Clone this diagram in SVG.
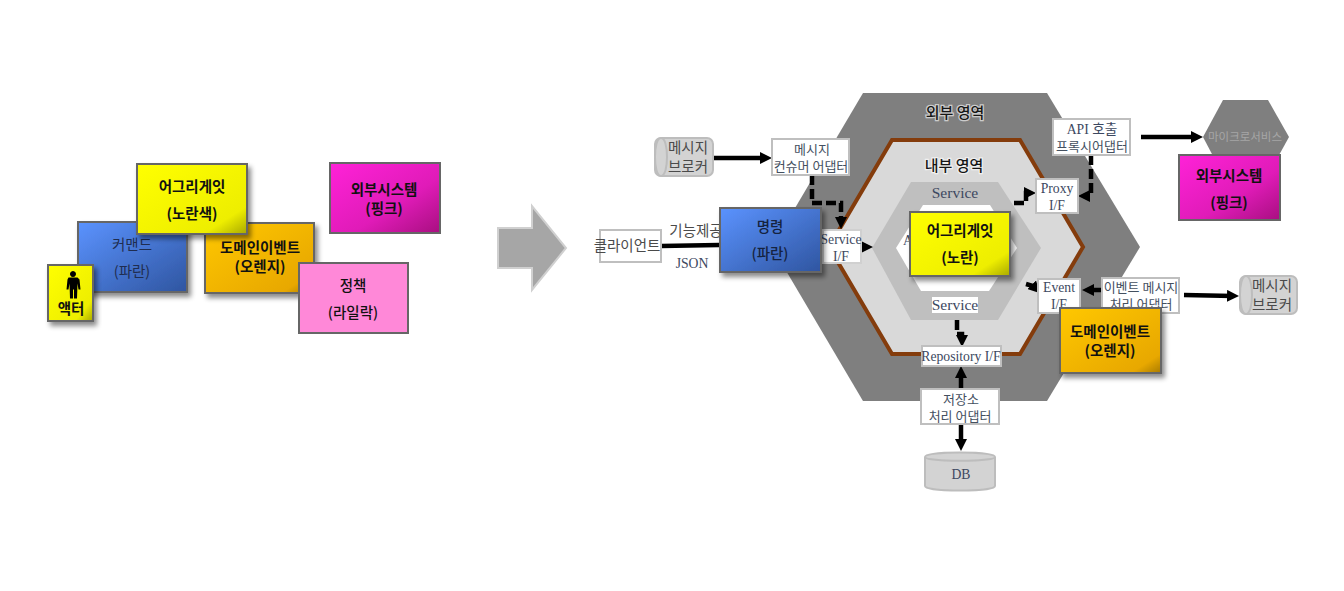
<svg xmlns="http://www.w3.org/2000/svg" width="1344" height="591" viewBox="0 0 1344 591">
<style>
text{font-family:"Noto Sans CJK KR","Noto Sans",sans-serif;text-anchor:middle;fill:#3f3f3f}
.b{font-weight:700;fill:#111;font-size:14.500px}
.n{font-size:14.500px;fill:#1f2d50}
.s{font-family:"Liberation Serif","Noto Sans CJK KR",serif;fill:#3c4860;font-size:13.700px}
.w{font-size:13px;fill:#44505f}
.w2{font-size:14.500px;fill:#4a4a4a}
.card{stroke:#666;stroke-width:2}
.sh{filter:url(#sh)}
.box{fill:#fff;stroke:#bfbfbf;stroke-width:2}
.cyl{fill:#d3d3d3;stroke:#bdbdbd;stroke-width:2}
.ln{fill:none;stroke:#000;stroke-width:4.500}
.da{fill:none;stroke:#000;stroke-width:4.500;stroke-dasharray:10 4}
.ha{paint-order:stroke;stroke:#fff;stroke-width:2.500;stroke-opacity:.6;font-size:15px;font-weight:500;fill:#161616}
</style>
<defs>
<linearGradient id="y" x1="0" y1="0" x2="1" y2="1"><stop offset="0" stop-color="#ffff00"/><stop offset=".8" stop-color="#eeee00"/><stop offset="1" stop-color="#a8a800"/></linearGradient>
<linearGradient id="bl" x1="0" y1="0" x2="1" y2="1"><stop offset="0" stop-color="#5b93ff"/><stop offset="1" stop-color="#2f55a0"/></linearGradient>
<linearGradient id="o" x1="0" y1="0" x2="1" y2="1"><stop offset="0" stop-color="#ffc800"/><stop offset=".85" stop-color="#e8a800"/><stop offset="1" stop-color="#a87a00"/></linearGradient>
<linearGradient id="p" x1="0" y1="0" x2="1" y2="1"><stop offset="0" stop-color="#ff22d8"/><stop offset=".6" stop-color="#e01bb8"/><stop offset="1" stop-color="#a80f80"/></linearGradient>
<filter id="sh" x="-15%" y="-15%" width="135%" height="140%"><feDropShadow dx="3" dy="4" stdDeviation="2.500" flood-color="#000" flood-opacity=".45"/></filter>
<marker id="a" viewBox="0 0 10 10" refX="5" refY="5" markerUnits="userSpaceOnUse" markerWidth="12" markerHeight="12" orient="auto"><path d="M0 0L10 5L0 10z"/></marker>
</defs>

<g id="legend-event"><rect class="card sh" x="205" y="223" width="109" height="70" fill="url(#o)"/><text class="b" x="260" y="253">도메인이벤트</text><text class="b" x="260" y="272">(오렌지)</text></g>
<g id="legend-command"><rect class="card sh" x="78" y="222" width="109" height="70" fill="url(#bl)"/><text class="n" x="132" y="250">커맨드</text><text class="n" x="132" y="277">(파란)</text></g>
<g id="legend-aggregate"><rect class="card sh" x="137" y="164" width="110" height="70" fill="url(#y)"/><text class="b" x="192" y="192">어그리게잇</text><text class="b" x="192" y="219">(노란색)</text></g>
<g id="legend-actor"><rect class="card sh" x="48" y="265" width="45" height="56" fill="url(#y)"/>
<path d="M73 271a3 3 0 1 1-.01 0zM68.500 277.500h9l2 2 1 10h-2l-1-6-.5 15h-3v-9h-1v9h-3l-.5-15-1 6h-2l1-10z" fill="#000"/>
<text class="b" x="71" y="314">액터</text></g>
<g id="legend-policy"><rect class="card" x="299" y="263" width="109" height="70" fill="#ff88d8"/><text class="b" x="353" y="291" style="font-weight:500">정책</text><text class="b" x="353" y="318" style="font-weight:500">(라일락)</text></g>
<g id="legend-external"><rect class="card" x="330" y="163" width="110" height="70" fill="url(#p)"/><text class="b" x="384" y="195">외부시스템</text><text class="b" x="384" y="214">(핑크)</text></g>

<g id="big-arrow"><path d="M498 228H532V206L566 248L532 290V268H498z" fill="#a6a6a6" stroke="#d0d0d0" stroke-width="2"/></g>

<g id="outer-hex"><path d="M863 93H1047L1140 247L1047 401H863L772 247z" fill="#7f7f7f"/><text class="ha" x="955" y="118">외부 영역</text></g>
<g id="inner-hex"><path d="M892 140H1020L1083 247L1020 354H892L829 247z" fill="#d9d9d9" stroke="#843c0c" stroke-width="4"/><text class="ha" x="954" y="171">내부 영역</text></g>
<g id="service-hex"><path d="M911 182H998L1041 248L998 320H911L872 248z" fill="#bfbfbf"/><text class="s" x="955" y="198" style="font-size:15.500px">Service</text></g>
<g id="core-hex"><path d="M923 205H990L1017 248L989 291H921L896 248z" fill="#fff"/><text class="s" x="908" y="245">A</text></g>

<g id="connectors">
<path class="ln" d="M713 158H766" marker-end="url(#a)"/>
<path class="da" d="M812 175V203H841V223" marker-end="url(#a)"/>
<path class="ln" d="M661 246L719 245"/>
<path class="ln" d="M860 247H867" marker-end="url(#a)"/>
<path class="da" d="M1014 203H1026V193L1030 193" marker-end="url(#a)"/>
<path class="da" d="M1091 155V196H1084" marker-end="url(#a)"/>
<path class="ln" d="M1141 137H1197" marker-end="url(#a)"/>
<path class="ln" d="M1026 284L1033 286L1036 289" marker-end="url(#a)"/>
<path class="ln" d="M1104 290H1088" marker-end="url(#a)"/>
<path class="ln" d="M1184 295L1233 296" marker-end="url(#a)"/>
<path class="da" d="M957 320V334H962V341" marker-end="url(#a)"/>
<path class="ln" d="M961 388V372" marker-end="url(#a)"/>
<path class="ln" d="M961 424V445" marker-end="url(#a)"/>
</g>

<g id="broker-left"><rect class="cyl" x="655" y="138" width="58" height="38" rx="6"/><path class="cyl" d="M661 138c-4 0-6 9-6 19s2 19 6 19c4 0 6-9 6-19s-2-19-6-19z"/><text class="w2" x="688" y="153">메시지</text><text class="w2" x="688" y="172">브로커</text></g>
<g id="consumer"><rect class="box" x="772" y="139" width="77" height="36"/><text class="w" x="812" y="154">메시지</text><text class="w" x="811" y="171">컨슈머 어댑터</text></g>
<g id="client"><rect class="box" x="600" y="230" width="61" height="32"/><text class="w2" x="627" y="251">클라이언트</text></g>
<text class="w2" x="696" y="236">기능제공</text>
<text class="s" x="692" y="268">JSON</text>
<g id="service-if"><rect x="823" y="230" width="38" height="33" fill="#fff" stroke="#d0d0d0" stroke-width="2"/><text class="s" x="841" y="244">Service</text><text class="s" x="841" y="261">I/F</text></g>
<g id="command"><rect class="card sh" x="720" y="208" width="101" height="64" fill="url(#bl)"/><text class="n" x="770" y="232" style="font-weight:500;fill:#152340">명령</text><text class="n" x="770" y="259" style="font-weight:500;fill:#152340">(파란)</text></g>
<g id="aggregate"><rect class="card sh" x="910" y="212" width="100" height="64" fill="url(#y)"/><text class="b" x="960" y="236">어그리게잇</text><text class="b" x="960" y="263">(노란)</text></g>
<g id="service-low"><rect x="932" y="297" width="46" height="16" fill="#fff"/><text class="s" x="955" y="310" style="font-size:15.500px">Service</text></g>
<g id="proxy-if"><rect class="box" x="1036" y="179" width="42" height="34"/><text class="s" x="1057" y="193">Proxy</text><text class="s" x="1057" y="210">I/F</text></g>
<g id="api-proxy"><rect class="box" x="1053" y="119" width="77" height="36"/><text class="s" x="1092" y="134">API 호출</text><text class="w" x="1092" y="151">프록시어댑터</text></g>
<g id="microservice"><path d="M1223 100H1268L1289 137L1268 175H1223L1203 137z" fill="#7f7f7f"/><text x="1245" y="141" font-size="11.500" style="fill:#a6a6a6">마이크로서비스</text></g>
<g id="external"><rect class="card" x="1179" y="155" width="101" height="65" fill="url(#p)"/><text class="b" x="1229" y="181">외부시스템</text><text class="b" x="1229" y="208">(핑크)</text></g>
<g id="event-if"><rect class="box" x="1038" y="279" width="42" height="34"/><text class="s" x="1059" y="292">Event</text><text class="s" x="1059" y="309">I/F</text></g>
<g id="event-handler"><rect class="box" x="1102" y="278" width="77" height="35"/><text class="w" x="1141" y="292">이벤트 메시지</text><text class="w" x="1141" y="309">처리 어댑터</text></g>
<g id="domain-event"><rect class="card sh" x="1060" y="308" width="101" height="65" fill="url(#o)"/><text class="b" x="1110" y="337">도메인이벤트</text><text class="b" x="1110" y="356">(오렌지)</text></g>
<g id="broker-right"><rect class="cyl" x="1240" y="276" width="57" height="38" rx="6"/><path class="cyl" d="M1246 276c-4 0-6 9-6 19s2 19 6 19c4 0 6-9 6-19s-2-19-6-19z"/><text class="w2" x="1272" y="291">메시지</text><text class="w2" x="1272" y="310">브로커</text></g>
<g id="repo-if"><rect class="box" x="922" y="346" width="79" height="20"/><text class="s" x="961" y="361">Repository I/F</text></g>
<g id="repo-adapter"><rect class="box" x="921" y="389" width="78" height="35"/><text class="w" x="961" y="404">저장소</text><text class="w" x="960" y="421">처리 어댑터</text></g>
<g id="db"><path class="cyl" d="M925 457c0-6 70-6 70 0V486c0 6-70 6-70 0z"/><path d="M925 457c0 5 70 5 70 0" fill="none" stroke="#bdbdbd" stroke-width="2"/><text class="s" x="961" y="479">DB</text></g>
</svg>
